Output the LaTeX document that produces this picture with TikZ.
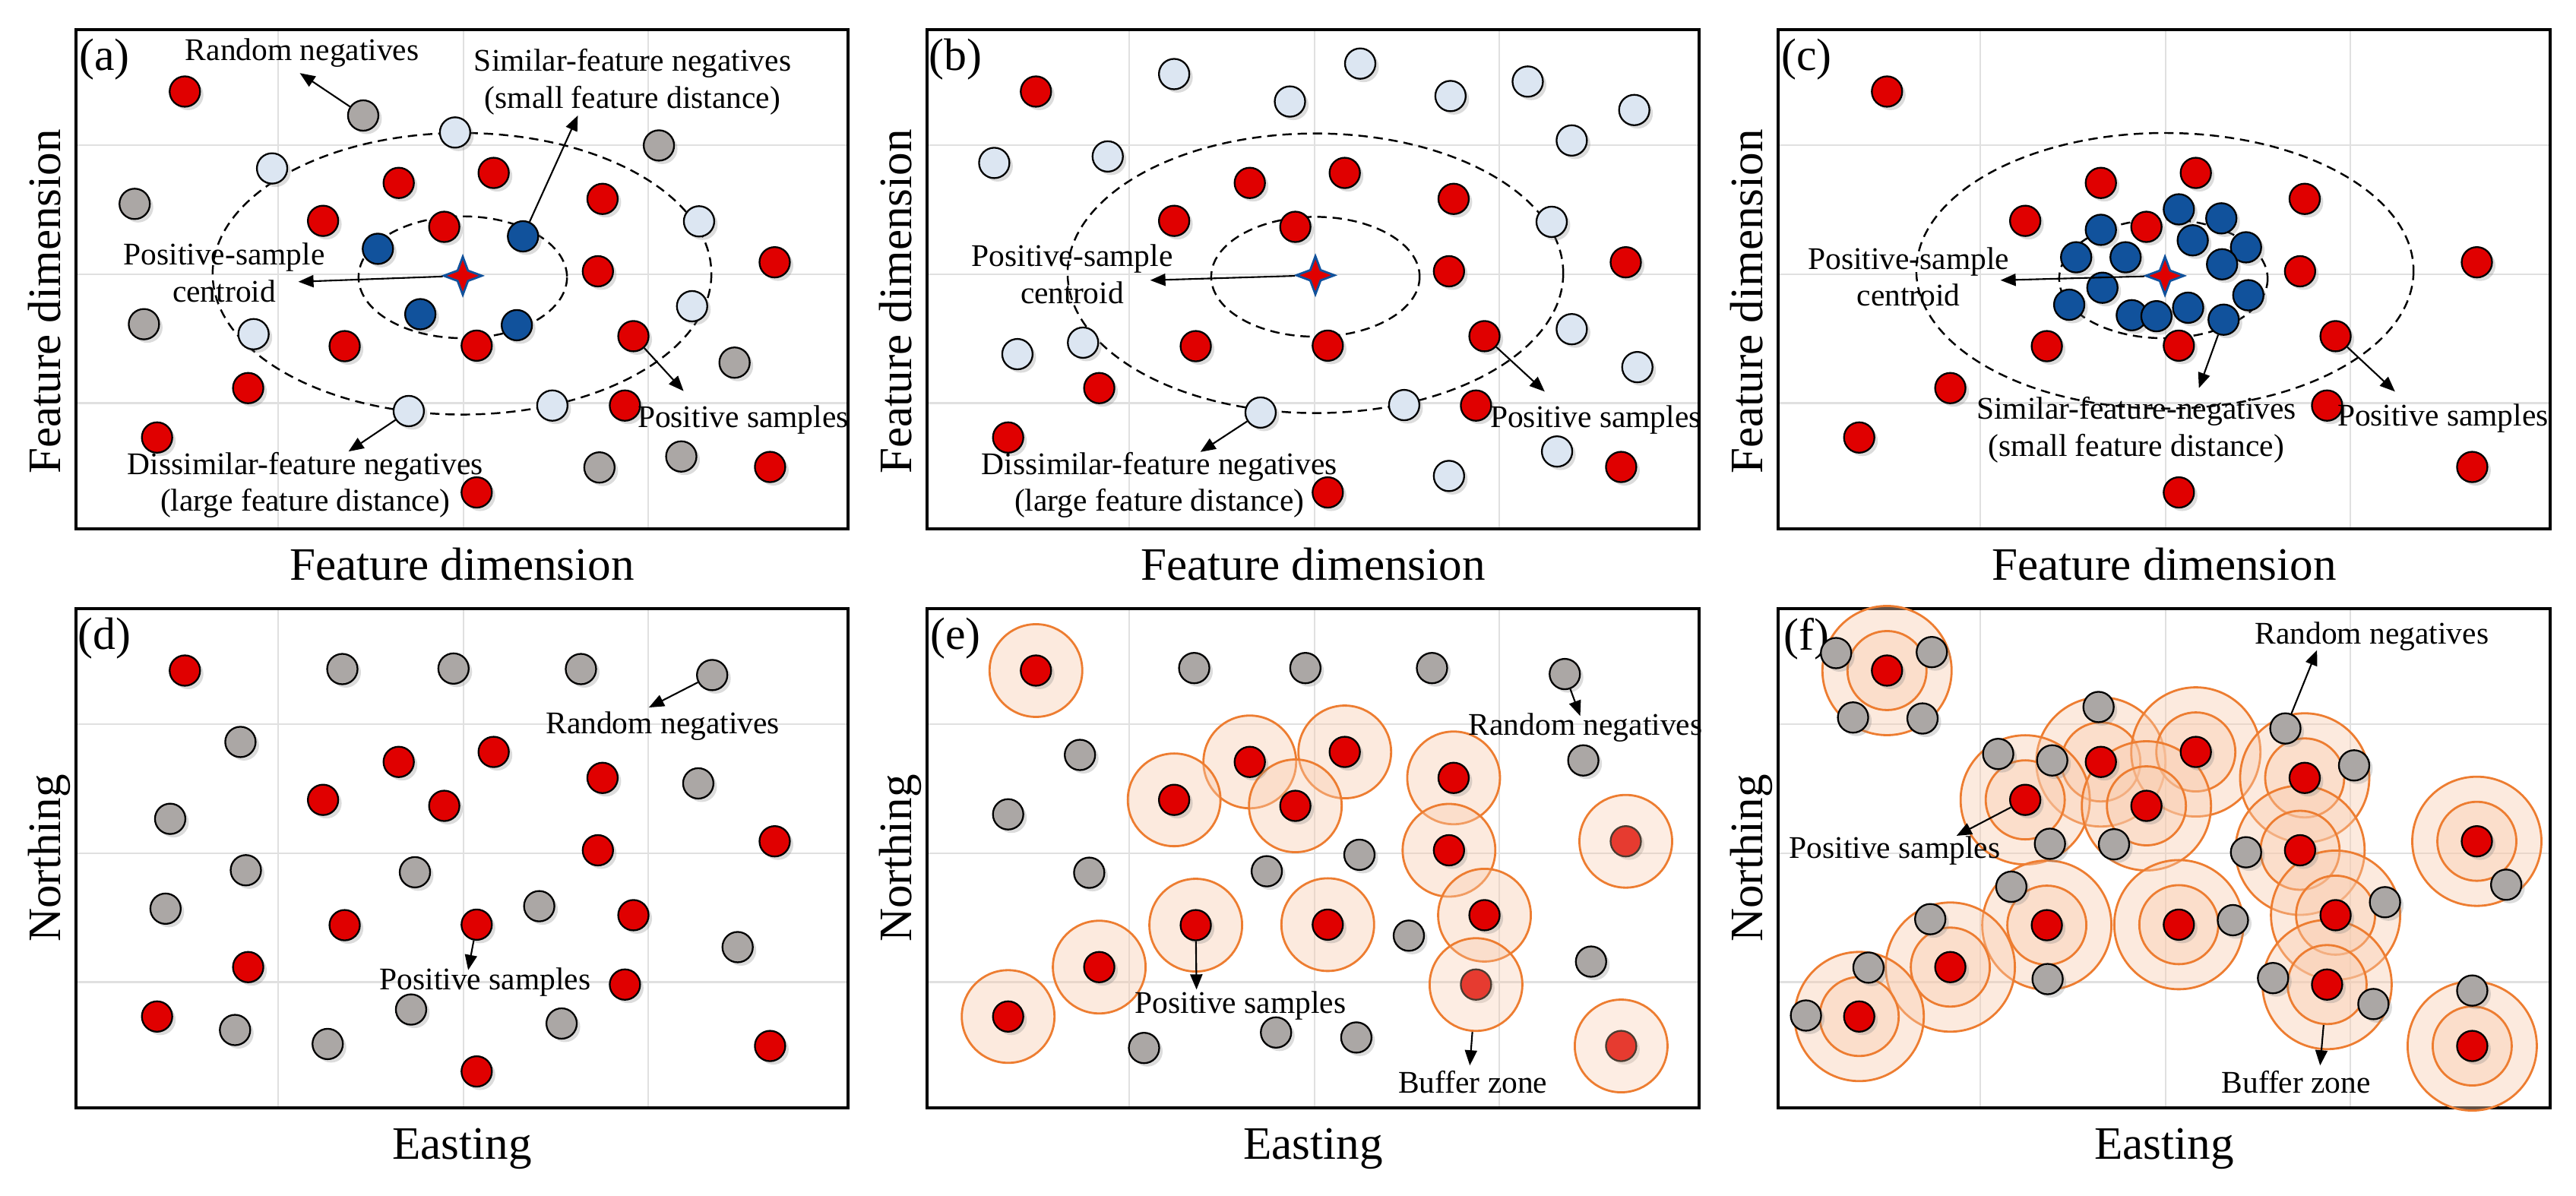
\documentclass[tikz,border=0pt]{standalone}
\usepackage{fontspec}
\setmainfont{Liberation Serif}
\usetikzlibrary{arrows.meta, shapes.geometric, shadows}

\definecolor{posred}{HTML}{E00000}
\definecolor{rndgray}{HTML}{ABA7A5}
\definecolor{farblue}{HTML}{DCE6F2}
\definecolor{nearblue}{HTML}{11529C}
\definecolor{bufline}{HTML}{ED7D31}
\definecolor{buffill}{HTML}{F8CBAD}
\colorlet{gridline}{black!12}

% positive samples, shared by all panels (panel-relative)
\def\redlow{1/0.141/0.124, 2/0.418/0.307, 3/0.541/0.287, 4/0.320/0.383,
    5/0.477/0.395, 6/0.682/0.339, 7/0.676/0.484, 9/0.348/0.634,
    10/0.519/0.633, 11/0.722/0.614, 12/0.223/0.718, 14/0.105/0.817}
\def\redhigh{8/0.905/0.466, 13/0.711/0.753, 16/0.899/0.876}
\def\redfar{15/0.519/0.927}

\begin{document}
\begin{tikzpicture}[
    font=\fontsize{11.8}{13.8}\selectfont,
    panel/.style 2 args={shift={(#1, #2)}, x=10.16cm, y=-6.57cm},
    sample/.style={circle, draw=black, line width=0.65pt, minimum size=0.4cm,
                   inner sep=0pt,
                   drop shadow={shadow xshift=0.045cm, shadow yshift=-0.045cm,
                                opacity=0.28}},
    posdot/.style={sample, fill=posred},
    rnddot/.style={sample, fill=rndgray},
    fardot/.style={sample, fill=farblue},
    neardot/.style={sample, fill=nearblue},
    centroid/.style={star, star points=4, star point ratio=2.6, minimum size=0.5cm,
                     inner sep=0pt, fill=posred, draw=nearblue, line width=0.8pt},
    buffer/.style={circle, draw=bufline, line width=0.8pt, fill=buffill,
                   fill opacity=0.4, inner sep=0pt},
    overbuffer/.style={buffer, fill=bufline!45, fill opacity=0.3},
    featring/.style={line width=0.7pt, dash pattern=on 3.5pt off 2.2pt},
    pointer/.style={-{Triangle[length=0.2cm, width=0.16cm]}, line width=0.6pt},
    lbl/.style={align=center, inner sep=0pt},
    axlbl/.style={font=\fontsize{17.4}{20}\selectfont, inner sep=0pt},
    paneltag/.style={font=\fontsize{17}{20}\selectfont, inner sep=0pt},
]

\useasboundingbox (0, 0) rectangle (33.90, -15.73);

% Panel frame macro: #1 x, #2 y, #3 tag, #4 x label, #5 y label,
%                    #6 height of the y label
\newcommand{\panelframe}[6]{
    \begin{scope}[panel={#1}{#2}]
        \foreach \gx in {0.262, 0.502, 0.741}
            \draw[gridline, line width=0.7pt] (\gx, 0) -- (\gx, 1);
        \foreach \gy in {0.231, 0.490, 0.748}
            \draw[gridline, line width=0.7pt] (0, \gy) -- (1, \gy);
        \draw[line width=1.1pt] (0, 0) rectangle (1, 1);
        \node[paneltag] (tag#3) at (0.037, 0.06) {(#3)};
        \node[axlbl, anchor=base] (xl#3) at ([yshift=-0.67cm]0.5, 1) {#4};
        \node[axlbl, anchor=base, rotate=90] (yl#3) at ([xshift=-0.21cm]0, #6) {#5};
    \end{scope}
}

\panelframe{1.00}{-0.39}{a}{Feature dimension}{Feature dimension}{0.545}
\panelframe{12.20}{-0.39}{b}{Feature dimension}{Feature dimension}{0.545}
\panelframe{23.40}{-0.39}{c}{Feature dimension}{Feature dimension}{0.545}
\panelframe{1.00}{-8.01}{d}{Easting}{Northing}{0.5}
\panelframe{12.20}{-8.01}{e}{Easting}{Northing}{0.5}
\panelframe{23.40}{-8.01}{f}{Easting}{Northing}{0.5}

% (a) random, dissimilar and similar negatives
\begin{scope}[panel={1.00}{-0.39}]
    \draw[featring] (0.501, 0.496) ellipse [x radius=0.135, y radius=0.122];
    \draw[featring] (0.500, 0.489) ellipse [x radius=0.323, y radius=0.282];
    \foreach \k/\cx/\cy in {1/0.372/0.172, 2/0.755/0.232, 3/0.076/0.349,
        4/0.088/0.590, 5/0.853/0.667, 6/0.678/0.877, 7/0.784/0.855}
        \node[rnddot] (ag\k) at (\cx, \cy) {};
    \foreach \k/\cx/\cy in {1/0.491/0.206, 2/0.254/0.278, 3/0.807/0.384,
        4/0.798/0.554, 5/0.230/0.610, 6/0.431/0.764, 7/0.617/0.753}
        \node[fardot] (af\k) at (\cx, \cy) {};
    \foreach \k/\cx/\cy in {1/0.391/0.439, 2/0.579/0.414, 3/0.446/0.570,
        4/0.571/0.592}
        \node[neardot] (an\k) at (\cx, \cy) {};
    \foreach \k/\cx/\cy in \redlow
        \node[posdot] (ar\k) at (\cx, \cy) {};
    \foreach \k/\cx/\cy in \redhigh
        \node[posdot] (ar\k) at (\cx, \cy) {};
    \foreach \k/\cx/\cy in \redfar
        \node[posdot] (ar\k) at (\cx, \cy) {};
    \node[centroid] (ac) at (0.501, 0.493) {};

    \node[lbl] (arnd) at (0.293, 0.047) {Random negatives};
    \node[lbl] (asim) at (0.721, 0.105) {Similar-feature negatives\\(small feature distance)};
    \node[lbl] (acen) at (0.192, 0.487) {Positive-sample\\centroid};
    \node[lbl] (apos) at (0.864, 0.781) {Positive samples};
    \node[lbl] (adis) at (0.297, 0.912) {Dissimilar-feature negatives\\(large feature distance)};
    \coordinate (arndtip) at (0.290, 0.087);
    \coordinate (asimtip) at (0.650, 0.172);
    \coordinate (acentip) at (0.288, 0.505);
    \coordinate (apostip) at (0.787, 0.724);
    \coordinate (adistip) at (0.353, 0.845);
    \draw[pointer] (ag1) -- (arndtip);
    \draw[pointer] (an2) -- (asimtip);
    \draw[pointer] (ac) -- (acentip);
    \draw[pointer] (ar11) -- (apostip);
    \draw[pointer] (af6) -- (adistip);
\end{scope}

% (b) dissimilar negatives only
\begin{scope}[panel={12.20}{-0.39}]
    \draw[featring] (0.503, 0.495) ellipse [x radius=0.135, y radius=0.120];
    \draw[featring] (0.503, 0.488) ellipse [x radius=0.321, y radius=0.280];
    \foreach \k/\cx/\cy in {1/0.320/0.089, 2/0.561/0.068, 3/0.470/0.144,
        4/0.678/0.133, 5/0.778/0.104, 6/0.916/0.161, 7/0.835/0.222,
        8/0.087/0.267, 9/0.234/0.254, 10/0.809/0.385, 11/0.835/0.600,
        12/0.117/0.650, 13/0.202/0.627, 14/0.920/0.676, 15/0.432/0.767,
        16/0.618/0.752, 17/0.816/0.845, 18/0.676/0.894}
        \node[fardot] (bf\k) at (\cx, \cy) {};
    \foreach \k/\cx/\cy in \redlow
        \node[posdot] (br\k) at (\cx, \cy) {};
    \foreach \k/\cx/\cy in \redhigh
        \node[posdot] (br\k) at (\cx, \cy) {};
    \foreach \k/\cx/\cy in \redfar
        \node[posdot] (br\k) at (\cx, \cy) {};
    \node[centroid] (bc) at (0.503, 0.492) {};

    \node[lbl] (bcen) at (0.188, 0.49) {Positive-sample\\centroid};
    \node[lbl] (bpos) at (0.866, 0.782) {Positive samples};
    \node[lbl] (bdis) at (0.301, 0.912) {Dissimilar-feature negatives\\(large feature distance)};
    \coordinate (bcentip) at (0.289, 0.502);
    \coordinate (bpostip) at (0.800, 0.725);
    \coordinate (bdistip) at (0.354, 0.846);
    \draw[pointer] (bc) -- (bcentip);
    \draw[pointer] (br11) -- (bpostip);
    \draw[pointer] (bf15) -- (bdistip);
\end{scope}

% (c) similar negatives only
\begin{scope}[panel={23.40}{-0.39}]
    \draw[featring] (0.499, 0.499) ellipse [x radius=0.135, y radius=0.119];
    \draw[featring] (0.501, 0.483) ellipse [x radius=0.322, y radius=0.276];
    \foreach \k/\cx/\cy in {1/0.519/0.360, 2/0.574/0.378, 3/0.418/0.401,
        4/0.537/0.422, 5/0.606/0.436, 6/0.386/0.456, 7/0.450/0.456,
        8/0.575/0.470, 9/0.420/0.517, 10/0.609/0.532, 11/0.377/0.551,
        12/0.458/0.572, 13/0.490/0.574, 14/0.531/0.557, 15/0.577/0.581}
        \node[neardot] (cn\k) at (\cx, \cy) {};
    \foreach \k/\cx/\cy in \redlow
        \node[posdot] (cr\k) at (\cx, \cy) {};
    \foreach \k/\cx/\cy in \redhigh
        \node[posdot] (cr\k) at (\cx, \cy) {};
    \foreach \k/\cx/\cy in \redfar
        \node[posdot] (cr\k) at (\cx, \cy) {};
    \node[centroid] (cc) at (0.501, 0.493) {};

    \node[lbl] (ccen) at (0.169, 0.495) {Positive-sample\\centroid};
    \node[lbl] (csim) at (0.464, 0.802) {Similar-feature-negatives\\(small feature distance)};
    \node[lbl] (cpos) at (0.861, 0.778) {Positive samples};
    \coordinate (ccentip) at (0.288, 0.502);
    \coordinate (csimtip) at (0.545, 0.718);
    \coordinate (cpostip) at (0.799, 0.725);
    \draw[pointer] (cc) -- (ccentip);
    \draw[pointer] (cn15) -- (csimtip);
    \draw[pointer] (cr11) -- (cpostip);
\end{scope}

% (d) random negatives in geographic space
\begin{scope}[panel={1.00}{-8.01}]
    \foreach \k/\cx/\cy in {1/0.345/0.121, 2/0.489/0.120, 3/0.654/0.121,
        4/0.824/0.133, 5/0.213/0.267, 6/0.806/0.350, 7/0.122/0.421,
        8/0.220/0.524, 9/0.439/0.528, 10/0.116/0.601, 11/0.600/0.596,
        12/0.857/0.678, 13/0.434/0.803, 14/0.629/0.831, 15/0.206/0.844,
        16/0.326/0.872}
        \node[rnddot] (dg\k) at (\cx, \cy) {};
    \foreach \k/\cx/\cy in \redlow
        \node[posdot] (dr\k) at (\cx, \cy) {};
    \foreach \k/\cx/\cy in \redhigh
        \node[posdot] (dr\k) at (\cx, \cy) {};
    \foreach \k/\cx/\cy in \redfar
        \node[posdot] (dr\k) at (\cx, \cy) {};

    \node[lbl] (drnd) at (0.760, 0.235) {Random negatives};
    \node[lbl] (dpos) at (0.530, 0.748) {Positive samples};
    \coordinate (drndtip) at (0.742, 0.198);
    \coordinate (dpostip) at (0.508, 0.724);
    \draw[pointer] (dg4) -- (drndtip);
    \draw[pointer] (dr10) -- (dpostip);
\end{scope}

% (e) one buffer zone round each positive sample
\begin{scope}[panel={12.20}{-8.01}]
    \foreach \k/\cx/\cy in \redlow
        \node[buffer, minimum size=1.22cm] (eb\k) at (\cx, \cy) {};
    \foreach \k/\cx/\cy in {1/0.346/0.119, 2/0.490/0.119, 3/0.654/0.119,
        4/0.826/0.131, 5/0.198/0.293, 6/0.850/0.304, 7/0.105/0.412,
        8/0.210/0.529, 9/0.440/0.526, 10/0.560/0.493, 11/0.624/0.655,
        12/0.860/0.707, 13/0.281/0.880, 14/0.452/0.849, 15/0.556/0.859}
        \node[rnddot] (eg\k) at (\cx, \cy) {};
    \foreach \k/\cx/\cy in \redlow
        \node[posdot] (er\k) at (\cx, \cy) {};
    \foreach \k/\cx/\cy in \redhigh {
        \node[posdot] (er\k) at (\cx, \cy) {};
        \node[overbuffer, minimum size=1.22cm] (eb\k) at (\cx, \cy) {};
    }

    \node[lbl] (ernd) at (0.853, 0.239) {Random negatives};
    \node[lbl] (epos) at (0.406, 0.795) {Positive samples};
    \node[lbl] (ebuf) at (0.707, 0.948) {Buffer zone};
    \coordinate (erndtip) at (0.846, 0.215);
    \coordinate (epostip) at (0.349, 0.763);
    \coordinate (ebuftip) at (0.703, 0.915);
    \draw[pointer] (eg4) -- (erndtip);
    \draw[pointer] (er9) -- (epostip);
    \draw[pointer] (eb13) -- (ebuftip);
\end{scope}

% (f) two buffer rings, negatives sampled between them
\begin{scope}[panel={23.40}{-8.01}]
    \foreach \k/\cx/\cy in \redlow {
        \node[buffer, minimum size=1.70cm] (fo\k) at (\cx, \cy) {};
        \node[buffer, minimum size=1.04cm] (fm\k) at (\cx, \cy) {};
    }
    \foreach \k/\cx/\cy in \redhigh {
        \node[buffer, minimum size=1.70cm] (fo\k) at (\cx, \cy) {};
        \node[buffer, minimum size=1.04cm] (fm\k) at (\cx, \cy) {};
    }
    \foreach \k/\cx/\cy in {1/0.075/0.089, 2/0.199/0.087, 3/0.097/0.218,
        4/0.187/0.220, 5/0.415/0.197, 6/0.285/0.291, 7/0.355/0.304,
        8/0.657/0.240, 9/0.746/0.314, 10/0.352/0.471, 11/0.435/0.472,
        12/0.606/0.488, 13/0.943/0.553, 14/0.302/0.557, 15/0.786/0.588,
        16/0.197/0.622, 17/0.589/0.624, 18/0.117/0.719, 19/0.349/0.742,
        20/0.641/0.740, 21/0.771/0.792, 22/0.036/0.815, 23/0.899/0.765}
        \node[rnddot] (fg\k) at (\cx, \cy) {};
    \foreach \k/\cx/\cy in \redlow
        \node[posdot] (fr\k) at (\cx, \cy) {};
    \foreach \k/\cx/\cy in \redhigh
        \node[posdot] (fr\k) at (\cx, \cy) {};

    \node[lbl] (frnd) at (0.769, 0.056) {Random negatives};
    \node[lbl] (fpos) at (0.151, 0.485) {Positive samples};
    \node[lbl] (fbuf) at (0.671, 0.948) {Buffer zone};
    \coordinate (frndtip) at (0.698, 0.083);
    \coordinate (fpostip) at (0.231, 0.455);
    \coordinate (fbuftip) at (0.702, 0.915);
    \draw[pointer] (fg8) -- (frndtip);
    \draw[pointer] (fr4) -- (fpostip);
    \draw[pointer] (fm13) -- (fbuftip);
\end{scope}

\end{tikzpicture}
\end{document}
